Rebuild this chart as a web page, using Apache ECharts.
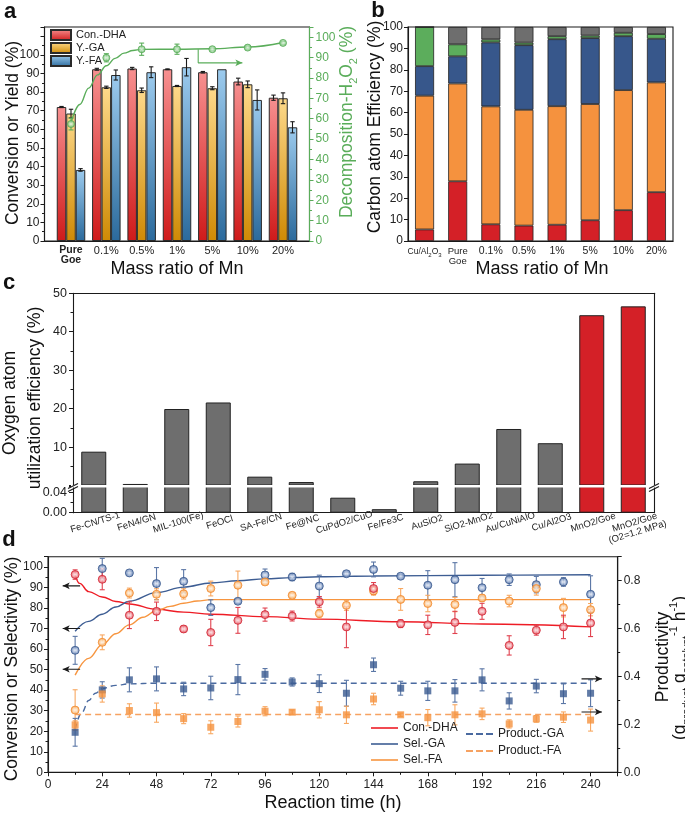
<!DOCTYPE html>
<html><head><meta charset="utf-8">
<script src="https://cdn.jsdelivr.net/npm/echarts@6.0.0/dist/echarts.min.js"></script>
<style>html,body{margin:0;padding:0;background:#fff}#c{width:685px;height:816px}</style>
</head><body><div id="c"></div>
<script>
// ================= DATA =================
// Panel a
const catsA = ['Pure Goe','0.1%','0.5%','1%','5%','10%','20%'];
const posA = [1,2,3,4,5,6,7];
const aConDHA = [72.0, 92.3, 92.7, 92.3, 90.7, 85.7, 77.0];
const aConDHAErr = [0.3, 0.5, 0.6, 0.2, 0.4, 1.8, 1.4];
const aYGA = [68.5, 82.6, 81.0, 83.3, 82.1, 84.2, 76.7];
const aYGAErr = [2.3, 0.6, 1.2, 0.3, 0.8, 1.8, 2.9];
const aYFA = [38.2, 89.2, 90.7, 93.4, 92.3, 75.8, 61.1];
const aYFAErr = [0.7, 2.7, 2.9, 4.7, 0, 5.4, 3.0];
const aDecomp = [57.4, 89.9, 94.1, 94.1, 94.1, 94.9, 97.2];
const aDecompErr = [2.9, 2.0, 3.0, 2.5, 0.5, 0.7, 0.7];
const aFitPos = [1.0, 1.25, 1.5, 1.75, 2.0, 2.25, 2.5, 2.75, 3.0, 4.0, 5.0, 6.0, 7.0];
const aFitVal = [58, 67, 75, 81.5, 86, 89.6, 92.2, 93.5, 94.0, 94.1, 94.3, 95.2, 97.4];
const aArrowPos = [4.6, 4.6, 5.85];
const aArrowVal = [94.1, 87.4, 87.4];

// Panel b
const catsB = ['Cu/Al2O3','Pure Goe','0.1%','0.5%','1%','5%','10%','20%'];
const bRed    = [5.4, 27.9, 7.8, 7.2, 7.6, 9.7, 14.4, 22.8];
const bOrange = [62.5, 45.7, 55.1, 54.1, 55.4, 54.3, 56.1, 51.3];
const bBlue   = [13.8, 12.7, 29.9, 30.2, 31.3, 30.8, 25.2, 20.4];
const bGreen  = [18.3, 5.6, 1.4, 1.2, 1.4, 1.2, 1.6, 2.2];
const bGray   = [0, 8.1, 5.8, 7.3, 4.3, 4.0, 2.7, 3.3];

// Panel c
const catsC = ['Fe-CN/TS-1','FeN4/GN','MIL-100(Fe)','FeOCl','SA-Fe/CN','Fe@NC','CuPdO2/CuO','Fe/Fe3C','AuSiO2','SiO2-MnO2','Au/CuNiAlO','Cu/Al2O3','MnO2/Goe','MnO2/Goe\n(O2=1.2 MPa)'];
const cOxyEff = [8.8, 0.4, 19.9, 21.6, 2.3, 0.9, 0.030, 0.007, 1.1, 5.7, 14.7, 11.0, 44.3, 46.6];

// Panel d
const dTime = [12,24,36,48,60,72,84,96,108,120,132,144,156,168,180,192,204,216,228,240];
const dConDHA    = [96.3,94.0,76.5,78.4,69.8,68.1,74.0,76.8,76.1,83.0,70.8,89.5,72.4,71.8,73.0,78.4,61.8,69.2,70.8,72.7];
const dConDHAErr = [2.3,5.1,6.5,4.5,1.5,6.4,6.3,3.2,2.4,2.6,10.1,2.9,1.9,4.7,5.4,3.9,4.7,2.4,5.7,6.6];
const dSelGA     = [59.4,99.2,97.1,91.9,93.0,80.2,83.3,96.1,95.1,90.7,96.7,98.8,95.5,91.1,93.8,89.9,93.8,91.4,92.7,86.7];
const dSelGAErr  = [6.8,5.0,0.5,7.8,5.7,3.8,1.0,2.9,1.8,5.3,0.8,3.6,0.8,7.1,8.3,4.5,2.8,4.0,2.1,9.0];
const dSelFA     = [30.3,63.3,87.3,86.7,86.9,89.5,91.1,92.7,86.2,77.3,81.3,88.3,84.2,82.2,81.7,84.9,83.4,89.5,80.2,79.2];
const dSelFAErr  = [9.9,3.6,2.4,2.7,2.5,3.6,6.9,1.0,1.0,2.1,2.4,2.0,5.3,4.0,3.5,1.5,2.8,3.2,4.5,3.0];
const dProdGA    = [0.167,0.344,0.386,0.390,0.348,0.352,0.387,0.409,0.377,0.370,0.330,0.449,0.351,0.340,0.340,0.386,0.298,0.360,0.328,0.330];
const dProdGAErr = [0.058,0.034,0.050,0.050,0.028,0.049,0.063,0.024,0.017,0.037,0.054,0.028,0.029,0.040,0.047,0.046,0.034,0.028,0.041,0.056];
const dProdFA    = [0.198,0.327,0.258,0.249,0.224,0.188,0.212,0.255,0.251,0.261,0.240,0.306,0.240,0.228,0.240,0.244,0.202,0.223,0.230,0.218];
const dProdFAErr = [0.017,0.034,0.028,0.040,0.021,0.027,0.023,0.019,0.009,0.034,0.036,0.024,0.007,0.034,0.042,0.024,0.017,0.014,0.022,0.046];
const fitDHAt = [12,14,18,24,30,36,48,60,72,96,120,156,192,240];
const fitDHAv = [96,92,88,85.4,83.2,82,79.4,78,77,75.8,74.6,73.3,72.2,70.8];
const fitGAt = [12,18,24,30,36,48,60,72,84,96,108,120,144,192,240];
const fitGAv = [68.7,73.5,77,80.5,83.3,87.5,90.2,92.2,93.3,94.2,94.8,95.2,95.6,96,96.2];
const fitFAt = [12,18,24,30,36,42,48,54,60,66,72,240];
const fitFAv = [47.3,55.5,62.2,67.5,71.8,75.5,78.7,80.8,82.3,83.4,84.1,84.1];
const fitPGAt = [12,15,18,21,24,30,36,48,240];
const fitPGAv = [0.18,0.25,0.30,0.33,0.35,0.363,0.369,0.372,0.372];
const fitPFAt = [12,240];
const fitPFAv = [0.241,0.241];
const dLeftArrowT = [14.2, 6.5];
const dLeftArrowLevels = [90.8, 70.0, 50.2];
const dRightArrowT = [236, 245];
const dRightArrowLevels = [0.39, 0.252];

// ================= STYLE / HELPERS =================
const F = "'Liberation Sans', Arial, Helvetica, sans-serif";
const K = '#1a1a1a';
const TXT = '#222';
const GREEN = '#5aad5a';
const RED = '#d42027', ORANGE = '#f5923e', BLUE = '#37578b', BGREEN = '#5cad5c', GRAY = '#6e6e6e';
const LRED = '#ee1c25', LBLUE = '#3d5d93', LORANGE = '#f7953f';
const DBLUE = '#4a6aa0', DORANGE = '#f6a262';

function lin(top, bot){ return {type:'linear', x:0, y:0, x2:0, y2:1, colorStops:[{offset:0,color:top},{offset:1,color:bot}]}; }
function sph(light, dark){ return {type:'radial', x:0.5, y:0.5, r:0.5, colorStops:[{offset:0,color:'#ffffff'},{offset:0.5,color:light},{offset:1,color:dark}]}; }
function pairs(xs, ys){ return xs.map((x,i)=>[x, ys[i]]); }

function errS(xs, ys, es, o){
  const data = [];
  xs.forEach((x,i)=>{ if (es[i] > 0 && ys[i] != null) data.push([x, ys[i], ys[i]-es[i], ys[i]+es[i]]); });
  return {
    type:'custom', xAxisIndex:o.xi, yAxisIndex:o.yi, z:o.z||3, silent:true, clip:false,
    encode:{x:0, y:[1,2,3]},
    renderItem: function(params, api){
      const x = api.value(0), lo = api.value(2), hi = api.value(3);
      const a = api.coord([x, lo]), b = api.coord([x, hi]);
      const px = a[0] + (o.dx||0), c = o.cap||2.5;
      const st = {stroke:o.color, lineWidth:o.lw||1.1};
      return {type:'group', children:[
        {type:'line', shape:{x1:px,y1:a[1],x2:px,y2:b[1]}, style:st},
        {type:'line', shape:{x1:px-c,y1:a[1],x2:px+c,y2:a[1]}, style:st},
        {type:'line', shape:{x1:px-c,y1:b[1],x2:px+c,y2:b[1]}, style:st}
      ]};
    },
    data: data
  };
}
function arrowS(xs, ys, o){
  return {type:'line', xAxisIndex:o.xi, yAxisIndex:o.yi, symbol:'arrow', symbolSize:[o.w||6,o.h||8], symbolRotate:o.rot,
    showSymbol:true, showAllSymbol:true, silent:true, z:6, animation:false,
    lineStyle:{color:o.color, width:o.lw||1.2}, itemStyle:{color:o.color},
    data: xs.map((x,i)=> i < xs.length-1 ? {value:[x,ys[i]], symbol:'none'} : {value:[x,ys[i]]})};
}
function gText(txt, x, y, size, o){
  o = o || {};
  const st = Object.assign({text:txt, fontSize:size, fontFamily:F, fontWeight:o.bold?'bold':'normal', fill:o.color||'#111', align:'center', verticalAlign:'middle'}, o.style||{});
  return {type:'text', x:x, y:y, rotation:o.rot||0, silent:true, z:100, style:st};
}
function gLine(x1,y1,x2,y2,c,w){ return {type:'line', silent:true, z:101, shape:{x1,y1,x2,y2}, style:{stroke:c||K, lineWidth:w||1.1}}; }

const lbl = (extra) => Object.assign({color:TXT, fontSize:12, fontFamily:F}, extra||{});
const axLine = (c) => ({show:true, onZero:false, lineStyle:{color:c||K, width:1.1}});
const tick = (c, show) => ({show: show!==false, length:4, inside:false, lineStyle:{color:c||K, width:1}});
const minor = (c, n) => ({show:true, splitNumber:n||2, length:2.5, lineStyle:{color:c||K, width:1}});
const isMult = (v, step) => Math.abs(v/step - Math.round(v/step)) < 1e-6;

// ================= OPTION =================
const grids = [
  {left:44.5, top:27, width:265, height:214, show:true, borderColor:K, borderWidth:1.1},      // a
  {left:408, top:27, width:265, height:214, show:true, borderColor:K, borderWidth:1.1},       // b
  {left:73, top:293.3, width:581, height:192.2},                                              // c upper
  {left:73, top:486.7, width:581, height:26},                                                 // c lower
  {left:48, top:556.7, width:569.7, height:215.6, show:true, borderColor:K, borderWidth:1.1} // d
];

const xAxes = [
  {gridIndex:0, type:'value', min:0.25, max:7.75, axisLine:axLine(), axisTick:{show:false}, splitLine:{show:false},
   axisLabel: lbl({customValues:posA, margin:4, fontSize:11,
     formatter: v => { const s = catsA[Math.round(v)-1]; return s === 'Pure Goe' ? '{b|Pure}\n{b|Goe}' : s; },
     rich:{b:{fontWeight:'bold', fontSize:10.5, lineHeight:10, color:TXT, fontFamily:F}}})},
  {gridIndex:1, type:'category', data:catsB, axisLine:axLine(), axisTick:{show:false}, splitLine:{show:false},
   axisLabel: lbl({interval:0, margin:5, fontSize:10.5,
     formatter: v => v === 'Cu/Al2O3' ? '{s|Cu/Al}{ss|2}{s|O}{ss|3}' : (v === 'Pure Goe' ? '{p|Pure}\n{p|Goe}' : v),
     rich:{s:{fontSize:8.5, lineHeight:12, color:TXT, fontFamily:F}, ss:{fontSize:6, lineHeight:8, verticalAlign:'bottom', color:TXT, fontFamily:F}, p:{fontSize:9.5, lineHeight:10, color:TXT, fontFamily:F}}})},
  {gridIndex:2, type:'category', data:catsC, position:'top', axisLine:axLine(), axisTick:{show:false}, axisLabel:{show:false}, splitLine:{show:false}},
  {gridIndex:3, type:'category', data:catsC, axisLine:axLine(), axisTick:{show:false}, splitLine:{show:false},
   axisLabel: lbl({interval:0, rotate:17, fontSize:9.5, margin:5, align:'center', verticalAlign:'top', lineHeight:10})},
  {gridIndex:4, type:'value', min:0, max:252, interval:24, axisLine:axLine(), axisTick:tick(), minorTick:minor(), splitLine:{show:false},
   axisLabel: lbl({margin:6, formatter: v => isMult(v,24) ? String(v) : ''})}
];

const yAxes = [
  {gridIndex:0, type:'value', min:0, max:115, interval:10, axisLine:axLine(), axisTick:tick(), minorTick:minor(), splitLine:{show:false},
   axisLabel: lbl({margin:5, formatter: v => (isMult(v,10) && v <= 100) ? String(v) : ''})},
  {gridIndex:0, type:'value', position:'right', min:0, max:105, interval:10, axisLine:axLine(GREEN), axisTick:tick(GREEN), minorTick:minor(GREEN), splitLine:{show:false},
   axisLabel: lbl({margin:6, color:GREEN, formatter: v => (isMult(v,10) && v <= 100) ? String(v) : ''})},
  {gridIndex:1, type:'value', min:0, max:100, interval:10, axisLine:axLine(), axisTick:tick(), splitLine:{show:false},
   axisLabel: lbl({margin:5})},
  {gridIndex:2, type:'value', min:0, max:50, interval:10, axisLine:axLine(), axisTick:tick(), minorTick:minor(), splitLine:{show:false},
   axisLabel: lbl({margin:6, fontSize:12.5, formatter: v => v === 0 ? '' : String(v)})},
  {gridIndex:2, type:'value', position:'right', min:0, max:50, axisLine:axLine(), axisTick:{show:false}, axisLabel:{show:false}, splitLine:{show:false}},
  {gridIndex:3, type:'value', min:0, max:0.052, interval:0.04, axisLine:axLine(), axisTick:tick(), minorTick:minor(), splitLine:{show:false},
   axisLabel: lbl({margin:6, fontSize:12.5, formatter: v => isMult(v,0.04) ? v.toFixed(2) : ''})},
  {gridIndex:3, type:'value', position:'right', min:0, max:0.052, axisLine:axLine(), axisTick:{show:false}, axisLabel:{show:false}, splitLine:{show:false}},
  {gridIndex:4, type:'value', min:0, max:105, interval:10, axisLine:axLine(), axisTick:tick(), minorTick:minor(), splitLine:{show:false},
   axisLabel: lbl({margin:5, formatter: v => (isMult(v,10) && v <= 100) ? String(v) : ''})},
  {gridIndex:4, type:'value', position:'right', min:0, max:0.9, interval:0.2, axisLine:axLine(), axisTick:tick(), minorTick:minor(), splitLine:{show:false},
   axisLabel: lbl({margin:6, formatter: v => (isMult(v,0.2) && v < 0.85) ? v.toFixed(1) : ''})}
];

const series = [];
// ---- Panel a ----
const aBarStyle = (top, bot) => ({color: lin(top, bot), borderColor:'#2a2a2a', borderWidth:1});
series.push({name:'Con.-DHA', type:'bar', xAxisIndex:0, yAxisIndex:0, barWidth:9.5, barGap:'0%', data:pairs(posA, aConDHA), itemStyle:aBarStyle('#f79090','#cf1a1a')});
series.push({name:'Y.-GA', type:'bar', xAxisIndex:0, yAxisIndex:0, barWidth:9.5, barGap:'0%', data:pairs(posA, aYGA), itemStyle:aBarStyle('#fdd98a','#cf8a05')});
series.push({name:'Y.-FA', type:'bar', xAxisIndex:0, yAxisIndex:0, barWidth:9.5, barGap:'0%', data:pairs(posA, aYFA), itemStyle:aBarStyle('#9ccbee','#2b6a9c')});
series.push(errS(posA, aConDHA, aConDHAErr, {xi:0, yi:0, dx:-9.5, color:K, cap:2.2}));
series.push(errS(posA, aYGA, aYGAErr, {xi:0, yi:0, dx:0, color:K, cap:2.2}));
series.push(errS(posA, aYFA, aYFAErr, {xi:0, yi:0, dx:9.5, color:K, cap:2.2}));
series.push({type:'line', xAxisIndex:0, yAxisIndex:1, data:pairs(aFitPos, aFitVal), smooth:0.4, smoothMonotone:'x', symbol:'none', silent:true, z:4, lineStyle:{color:GREEN, width:1.4}});
series.push(errS(posA, aDecomp, aDecompErr, {xi:0, yi:1, color:GREEN, cap:2.5, z:5}));
series.push({type:'scatter', xAxisIndex:0, yAxisIndex:1, data:pairs(posA, aDecomp), symbol:'circle', symbolSize:7, z:6, silent:true, itemStyle:{color:sph('#a6dba6', GREEN), borderColor:GREEN, borderWidth:1}});
series.push(arrowS(aArrowPos, aArrowVal, {xi:0, yi:1, rot:-90, color:GREEN, lw:1.1, w:5, h:7}));

// ---- Panel b ----
const bSt = c => ({color:c, borderColor:'#222', borderWidth:0.8});
[['red',bRed,RED],['orange',bOrange,ORANGE],['blue',bBlue,BLUE],['green',bGreen,BGREEN],['gray',bGray,GRAY]].forEach(([n,d,c])=>{
  series.push({name:'b-'+n, type:'bar', xAxisIndex:1, yAxisIndex:2, stack:'carbon', barWidth:19, data:d, itemStyle:bSt(c), silent:true});
});

// ---- Panel c ----
const cColor = i => catsC[i].indexOf('Goe') >= 0 ? RED : GRAY;
series.push({type:'bar', xAxisIndex:2, yAxisIndex:3, barWidth:25, silent:true,
  data: cOxyEff.map((v,i)=>({value: v > 0.05 ? v : '-', itemStyle:{color:cColor(i), borderColor:'#222', borderWidth:1}}))});
series.push({type:'bar', xAxisIndex:3, yAxisIndex:5, barWidth:25, silent:true, clip:true,
  data: cOxyEff.map((v,i)=>({value: v, itemStyle:{color:cColor(i), borderColor:'#222', borderWidth:1}}))});

// ---- Panel d ----
series.push({name:'Con.-DHA ', type:'line', xAxisIndex:4, yAxisIndex:7, data:pairs(fitDHAt, fitDHAv), smooth:0.4, smoothMonotone:'x', symbol:'none', z:2, lineStyle:{color:LRED, width:1.4}, itemStyle:{color:LRED}});
series.push({name:'Sel.-GA', type:'line', xAxisIndex:4, yAxisIndex:7, data:pairs(fitGAt, fitGAv), smooth:0.4, smoothMonotone:'x', symbol:'none', z:2, lineStyle:{color:LBLUE, width:1.4}, itemStyle:{color:LBLUE}});
series.push({name:'Sel.-FA', type:'line', xAxisIndex:4, yAxisIndex:7, data:pairs(fitFAt, fitFAv), smooth:0.4, smoothMonotone:'x', symbol:'none', z:2, lineStyle:{color:LORANGE, width:1.4}, itemStyle:{color:LORANGE}});
series.push({name:'Product.-GA', type:'line', xAxisIndex:4, yAxisIndex:8, data:pairs(fitPGAt, fitPGAv), smooth:0.4, smoothMonotone:'x', symbol:'none', z:2, lineStyle:{color:DBLUE, width:1.4, type:[6,4]}, itemStyle:{color:DBLUE}});
series.push({name:'Product.-FA', type:'line', xAxisIndex:4, yAxisIndex:8, data:pairs(fitPFAt, fitPFAv), symbol:'none', z:2, lineStyle:{color:DORANGE, width:1.4, type:[6,4]}, itemStyle:{color:DORANGE}});

series.push(errS(dTime, dSelGA, dSelGAErr, {xi:4, yi:7, color:'#5b77a6', cap:2.5}));
series.push(errS(dTime, dSelFA, dSelFAErr, {xi:4, yi:7, color:'#f8a861', cap:2.5}));
series.push(errS(dTime, dConDHA, dConDHAErr, {xi:4, yi:7, color:'#e0424f', cap:2.5}));
series.push(errS(dTime, dProdGA, dProdGAErr, {xi:4, yi:8, color:'#5b77a6', cap:2.5}));
series.push(errS(dTime, dProdFA, dProdFAErr, {xi:4, yi:8, color:'#f8a861', cap:2.5}));
const circ = (d, light, dark, yi) => ({type:'scatter', xAxisIndex:4, yAxisIndex:yi, data:pairs(dTime, d), symbol:'circle', symbolSize:8, z:5, silent:true, itemStyle:{color:sph(light, dark), borderColor:dark, borderWidth:1}});
series.push(circ(dSelGA, '#9db2d6', '#3a5a90', 7));
series.push(circ(dSelFA, '#fcd0a0', '#f28c30', 7));
series.push(circ(dConDHA, '#f29aa2', '#d52a38', 7));
series.push({type:'scatter', xAxisIndex:4, yAxisIndex:8, data:pairs(dTime, dProdGA), symbol:'rect', symbolSize:7, z:5, silent:true, itemStyle:{color:'#3a5a90'}});
series.push({type:'scatter', xAxisIndex:4, yAxisIndex:8, data:pairs(dTime, dProdFA), symbol:'rect', symbolSize:7, z:5, silent:true, itemStyle:{color:'#f5923e'}});
dLeftArrowLevels.forEach(v => series.push(arrowS(dLeftArrowT, [v, v], {xi:4, yi:7, rot:90, color:K, lw:1.1, w:5, h:7})));
dRightArrowLevels.forEach(v => series.push(arrowS(dRightArrowT, [v, v], {xi:4, yi:8, rot:-90, color:K, lw:1.1, w:5, h:7})));

// ---- Legends ----
const dashIcon = 'path://M0,0h7v2h-7zM10,0h7v2h-7zM20,0h7v2h-7z';
const legends = [
  {data:['Con.-DHA','Y.-GA','Y.-FA'], left:50, top:29, orient:'vertical', itemWidth:20, itemHeight:10, itemGap:1, padding:0, icon:'rect', selectedMode:false,
   textStyle:{fontSize:11, lineHeight:10, color:TXT, fontFamily:F}},
  {data:[{name:'Con.-DHA ', icon:'rect'},{name:'Sel.-GA', icon:'rect'},{name:'Sel.-FA', icon:'rect'}], left:371, top:722, orient:'vertical', itemWidth:27, itemHeight:1.6, itemGap:4, padding:0, selectedMode:false,
   textStyle:{fontSize:12, lineHeight:11, color:TXT, fontFamily:F}},
  {data:[{name:'Product.-GA', icon:dashIcon},{name:'Product.-FA', icon:dashIcon}], left:466, top:728, orient:'vertical', itemWidth:27, itemHeight:2, itemGap:5, padding:0, selectedMode:false,
   textStyle:{fontSize:12, lineHeight:11, color:TXT, fontFamily:F}}
];

// ---- Graphic (titles, panel letters, axis break) ----
const subRich = (size, color) => ({
  n:{fontSize:size, lineHeight:24, fill:color, fontFamily:F},
  s:{fontSize:11, lineHeight:12, verticalAlign:'bottom', fill:color, fontFamily:F},
  p:{fontSize:11, lineHeight:12, verticalAlign:'top', fill:color, fontFamily:F}
});
const R90 = Math.PI/2;
const graphics = [
  gText('a', 10, 12, 22, {bold:true}),
  gText('b', 378, 11, 22, {bold:true}),
  gText('c', 9, 283, 22, {bold:true}),
  gText('d', 9, 540, 22, {bold:true}),
  gText('Conversion or Yield (%)', 13, 133, 17.5, {rot:R90}),
  gText('', 347, 122, 17.5, {rot:R90, style:{text:'{n|Decomposition-H}{s|2}{n|O}{s|2}{n| (%)}', rich:subRich(17.5, GREEN), fill:GREEN}}),
  gText('Carbon atom Efficiency (%)', 375, 127, 17.5, {rot:R90}),
  gText('Mass ratio of Mn', 177, 269, 18),
  gText('Mass ratio of Mn', 542, 269, 18),
  gText('Oxygen atom', 10, 403, 17.5, {rot:R90}),
  gText('utilization efficiency (%)', 35, 398, 17.5, {rot:R90}),
  gText('Conversion or Selectivity (%)', 12, 669, 17.5, {rot:R90}),
  gText('Reaction time (h)', 333, 803, 18),
  gText('Productivity', 663, 657, 17.5, {rot:R90}),
  gText('', 680, 668, 17.5, {rot:R90, style:{text:'{n|(g}{s|product}{n| g}{s|catalyst}{p|-1}{n| h}{p|-1}{n|)}', rich:subRich(17.5, '#111')}}),
  {type:'rect', silent:true, z:100, shape:{x:71, y:484.9, width:586, height:2.5}, style:{fill:'#ffffff'}},
  gLine(68, 488.5, 78, 483.5), gLine(68, 491.5, 78, 486.5),
  gLine(649, 488.5, 659, 483.5), gLine(649, 491.5, 659, 486.5)
];

const option = {
  animation:false,
  backgroundColor:'#fff',
  textStyle:{fontFamily:F},
  grid:grids, xAxis:xAxes, yAxis:yAxes, series:series, legend:legends, graphic:graphics
};
const chart = echarts.init(document.getElementById('c'), null, {renderer:'canvas', width:685, height:816});
chart.setOption(option);
</script></body></html>
